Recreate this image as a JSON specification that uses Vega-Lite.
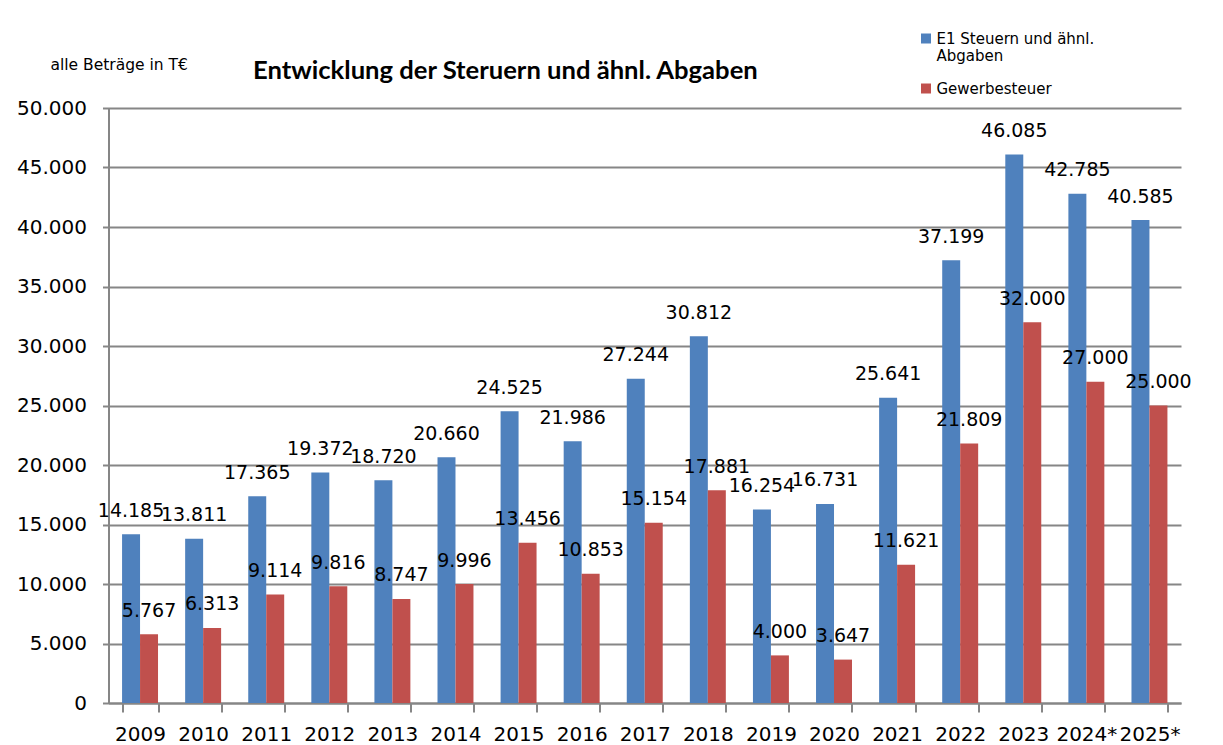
{
  "$schema": "https://vega.github.io/schema/vega-lite/v6.json",
  "width": 1072.5,
  "height": 595,
  "autosize": {"type": "none"},
  "padding": {"left": 108.5, "top": 108, "right": 42, "bottom": 42},
  "background": "white",
  "config": {
    "locale": {"number": {"decimal": ",", "thousands": ".", "grouping": [3], "currency": ["", " €"]}},
    "view": {"stroke": null},
    "font": "DejaVu Sans"
  },
  "title": {
    "text": "Entwicklung der Steruern und ähnl. Abgaben",
    "anchor": "start",
    "frame": "group",
    "dx": 144.5,
    "dy": 74,
    "font": "Lato",
    "fontWeight": "bold",
    "fontSize": 25.6,
    "color": "black",
    "offset": 20
  },
  "data": {
    "values": [
      {"year": "2009", "series": "E1 Steuern und ähnl. Abgaben", "value": 14185},
      {"year": "2009", "series": "Gewerbesteuer", "value": 5767},
      {"year": "2010", "series": "E1 Steuern und ähnl. Abgaben", "value": 13811},
      {"year": "2010", "series": "Gewerbesteuer", "value": 6313},
      {"year": "2011", "series": "E1 Steuern und ähnl. Abgaben", "value": 17365},
      {"year": "2011", "series": "Gewerbesteuer", "value": 9114},
      {"year": "2012", "series": "E1 Steuern und ähnl. Abgaben", "value": 19372},
      {"year": "2012", "series": "Gewerbesteuer", "value": 9816},
      {"year": "2013", "series": "E1 Steuern und ähnl. Abgaben", "value": 18720},
      {"year": "2013", "series": "Gewerbesteuer", "value": 8747},
      {"year": "2014", "series": "E1 Steuern und ähnl. Abgaben", "value": 20660},
      {"year": "2014", "series": "Gewerbesteuer", "value": 9996},
      {"year": "2015", "series": "E1 Steuern und ähnl. Abgaben", "value": 24525},
      {"year": "2015", "series": "Gewerbesteuer", "value": 13456},
      {"year": "2016", "series": "E1 Steuern und ähnl. Abgaben", "value": 21986},
      {"year": "2016", "series": "Gewerbesteuer", "value": 10853},
      {"year": "2017", "series": "E1 Steuern und ähnl. Abgaben", "value": 27244},
      {"year": "2017", "series": "Gewerbesteuer", "value": 15154},
      {"year": "2018", "series": "E1 Steuern und ähnl. Abgaben", "value": 30812},
      {"year": "2018", "series": "Gewerbesteuer", "value": 17881},
      {"year": "2019", "series": "E1 Steuern und ähnl. Abgaben", "value": 16254},
      {"year": "2019", "series": "Gewerbesteuer", "value": 4000},
      {"year": "2020", "series": "E1 Steuern und ähnl. Abgaben", "value": 16731},
      {"year": "2020", "series": "Gewerbesteuer", "value": 3647},
      {"year": "2021", "series": "E1 Steuern und ähnl. Abgaben", "value": 25641},
      {"year": "2021", "series": "Gewerbesteuer", "value": 11621},
      {"year": "2022", "series": "E1 Steuern und ähnl. Abgaben", "value": 37199},
      {"year": "2022", "series": "Gewerbesteuer", "value": 21809},
      {"year": "2023", "series": "E1 Steuern und ähnl. Abgaben", "value": 46085},
      {"year": "2023", "series": "Gewerbesteuer", "value": 32000},
      {"year": "2024*", "series": "E1 Steuern und ähnl. Abgaben", "value": 42785},
      {"year": "2024*", "series": "Gewerbesteuer", "value": 27000},
      {"year": "2025*", "series": "E1 Steuern und ähnl. Abgaben", "value": 40585},
      {"year": "2025*", "series": "Gewerbesteuer", "value": 25000}
    ]
  },
  "encoding": {
    "x": {
      "field": "year",
      "type": "nominal",
      "sort": null,
      "scale": {"paddingInner": 0.43, "paddingOuter": 0.215},
      "axis": {
        "title": null,
        "labelAngle": 0,
        "labelFontSize": 20,
        "labelColor": "black",
        "labelPadding": 12,
        "domainColor": "#868686",
        "domainWidth": 2,
        "tickColor": "#868686",
        "tickWidth": 2,
        "tickSize": 9,
        "tickBand": "extent"
      }
    },
    "xOffset": {
      "field": "series",
      "type": "nominal",
      "sort": ["E1 Steuern und ähnl. Abgaben", "Gewerbesteuer"],
      "scale": {"paddingInner": 0, "paddingOuter": 0}
    },
    "y": {
      "field": "value",
      "type": "quantitative",
      "scale": {"domain": [0, 50000], "nice": false},
      "axis": {
        "values": [0, 5000, 10000, 15000, 20000, 25000, 30000, 35000, 40000, 45000, 50000],
        "format": ",d",
        "grid": true,
        "gridColor": "#868686",
        "gridWidth": 2,
        "domainColor": "#868686",
        "domainWidth": 2,
        "tickColor": "#868686",
        "tickWidth": 2,
        "tickSize": 6,
        "labelFontSize": 20,
        "labelColor": "black",
        "labelPadding": 16,
        "title": "alle Beträge in T€",
        "titleAngle": 0,
        "titleX": -58.5,
        "titleY": -44,
        "titleAlign": "left",
        "titleBaseline": "middle",
        "titleFontSize": 15.5,
        "titleFontWeight": "normal",
        "titleColor": "black",
        "titleFont": "DejaVu Sans"
      }
    }
  },
  "layer": [
    {
      "mark": {"type": "bar"},
      "encoding": {
        "color": {
          "field": "series",
          "type": "nominal",
          "scale": {"domain": ["E1 Steuern und ähnl. Abgaben", "Gewerbesteuer"], "range": ["#4F81BD", "#C0504D"]},
          "legend": {
            "orient": "none",
            "legendX": 810,
            "legendY": -77,
            "title": null,
            "symbolType": "square",
            "symbolSize": 100,
            "symbolStrokeWidth": 0,
            "labelFontSize": 15,
            "labelColor": "black",
            "labelOffset": 3,
            "rowPadding": 17,
            "labelExpr": "datum.label == 'E1 Steuern und ähnl. Abgaben' ? ['E1 Steuern und ähnl.', 'Abgaben'] : datum.label"
          }
        }
      }
    },
    {
      "mark": {"type": "text", "baseline": "alphabetic", "dy": -17.5, "fontSize": 19, "color": "black", "font": "DejaVu Sans"},
      "encoding": {
        "text": {"field": "value", "type": "quantitative", "format": ",d"}
      }
    }
  ]
}
